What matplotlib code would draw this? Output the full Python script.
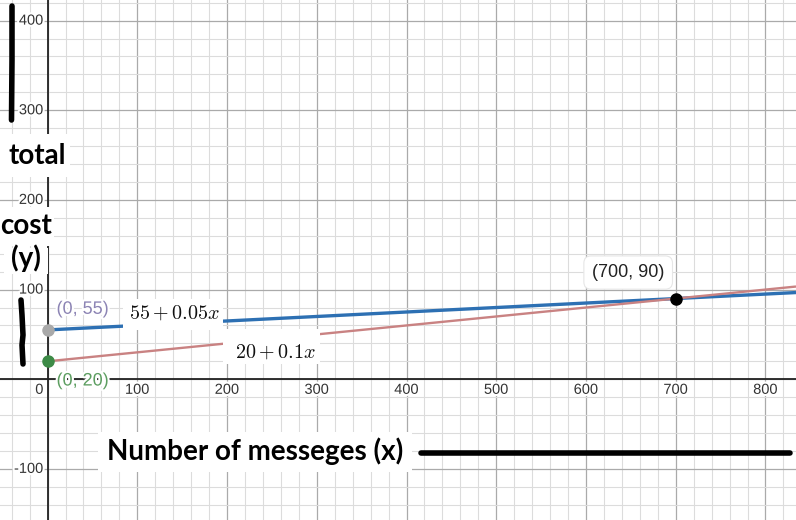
import matplotlib
matplotlib.use("Agg")
import matplotlib.pyplot as plt
import matplotlib.patheffects as pe
import numpy as np
from matplotlib.patches import Rectangle

# ---------------- data ----------------
x_ticks = [100, 200, 300, 400, 500, 600, 700, 800]
y_ticks = [-100, 100, 200, 300, 400]
intercepts = [55, 20]
slopes = [0.05, 0.1]
line_colors = ["#2d70b3", "#c98282"]
eq_labels = ["$55 + 0.05x$", "$20 + 0.1x$"]
intercept_pts_x = [0, 0]
intercept_pts_y = [55, 20]
intercept_labels = ["(0, 55)", "(0, 20)"]
intersection_x = [700]
intersection_y = [90]
intersection_label = "(700, 90)"

XMIN, XMAX = -53, 834
YMIN, YMAX = -157, 423

plt.rcParams["mathtext.fontset"] = "cm"
W, H = 796, 520
fig = plt.figure(figsize=(W / 100, H / 100), dpi=100)
ax = fig.add_axes([0, 0, 1, 1])
ax.set_xlim(XMIN, XMAX)
ax.set_ylim(YMIN, YMAX)
ax.axis("off")

# grid
for gx in np.arange(-40, XMAX, 20):
    major = gx % 100 == 0
    ax.axvline(gx, color="#aaaaaa" if major else "#dcdcdc", lw=0.9 if major else 0.8, zorder=0)
for gy in np.arange(-140, YMAX, 20):
    major = gy % 100 == 0
    ax.axhline(gy, color="#aaaaaa" if major else "#dcdcdc", lw=0.9 if major else 0.8, zorder=0)
ax.axhline(0, color="#222222", lw=1.3, zorder=1)
ax.axvline(0, color="#222222", lw=1.3, zorder=1)

halo = [pe.withStroke(linewidth=3, foreground="white")]
tick_font = dict(family="Liberation Sans", fontsize=10.5, color="#333333", path_effects=halo, zorder=3)
for tx in x_ticks:
    ax.text(tx, -4, str(tx), ha="center", va="top", **tick_font)
for ty in y_ticks:
    ax.text(-4.5, ty, str(ty), ha="right", va="center", **tick_font)
ax.text(-4.5, -4, "0", ha="right", va="top", **tick_font)

# lines
xs = np.array([0, XMAX])
for b, m, c, lw in zip(intercepts, slopes, line_colors, [2.4, 1.7]):
    ax.plot(xs, b + m * xs, color=c, lw=lw, solid_capstyle="butt", zorder=4)

# points
ax.plot(intercept_pts_x[0], intercept_pts_y[0], "o", color="#a9a9a9", ms=8, zorder=6)
ax.plot(intercept_pts_x[1], intercept_pts_y[1], "o", color="#3d8b47", ms=8, zorder=6)
ax.plot(intersection_x, intersection_y, "o", color="#000000", ms=8, zorder=6)

pt_font = dict(family="Liberation Sans", fontsize=13, zorder=7)
ax.text(intercept_pts_x[0] + 10, intercept_pts_y[0] + 23, intercept_labels[0],
        color="#8c84b4", va="center", ha="left", path_effects=halo, **pt_font)
ax.text(intercept_pts_x[1] + 10, intercept_pts_y[1] - 22, intercept_labels[1],
        color="#5d9e61", va="center", ha="left", path_effects=halo, **pt_font)
ax.text(intersection_x[0] - 53, intersection_y[0] + 29, intersection_label,
        color="#222222", va="center", ha="center", **pt_font,
        bbox=dict(boxstyle="round,pad=0.45,rounding_size=0.4", fc="white", ec="#e6e6e6", lw=0.8))

# equation labels (white boxes hide lines beneath)
def fig_rect(x0, y0, x1, y1, z=5):
    r = Rectangle((x0 / W, 1 - y1 / H), (x1 - x0) / W, (y1 - y0) / H,
                  transform=fig.transFigure, fc="white", ec="none", zorder=z)
    ax.add_artist(r)

fig_rect(123, 299, 223, 330)
ax.text(175 / W, 1 - 313 / H, eq_labels[0], transform=fig.transFigure, fontsize=14.5,
        ha="center", va="center", color="#111111", zorder=6)
fig_rect(223, 329, 320, 364)
ax.text(276 / W, 1 - 352 / H, eq_labels[1], transform=fig.transFigure, fontsize=14.5,
        ha="center", va="center", color="#111111", zorder=6)

# hand-drawn annotations
fig_rect(0, 134, 70, 177, z=8)
fig_rect(0, 207, 54, 246, z=8)
fig_rect(4, 248, 48, 274, z=8)
fig_rect(98, 432, 412, 472, z=8)
bold = dict(family="Lato", fontweight="bold", color="black", zorder=9,
            transform=fig.transFigure)
ax.text(37 / W, 1 - 156 / H, "total", fontsize=20, ha="center", va="center", **bold)
ax.text(26 / W, 1 - 226 / H, "cost", fontsize=20, ha="center", va="center", **bold)
ax.text(26 / W, 1 - 258 / H, "(y)", fontsize=20, ha="center", va="center", **bold)
ax.text(255 / W, 1 - 451 / H, "Number of messeges (x)", fontsize=20, ha="center", va="center", **bold)

def fig_line(px, py, lw=4):
    ax.plot(np.array(px) / W, 1 - np.array(py) / H, color="black", lw=lw,
            solid_capstyle="round", transform=fig.transFigure, zorder=9)

fig_line([12, 12, 11.5], [6, 60, 120])
fig_line([21, 22, 23, 22, 23], [300, 315, 335, 345, 364])
fig_line([421, 790], [453, 453])

fig.savefig("out.png", dpi=100)
